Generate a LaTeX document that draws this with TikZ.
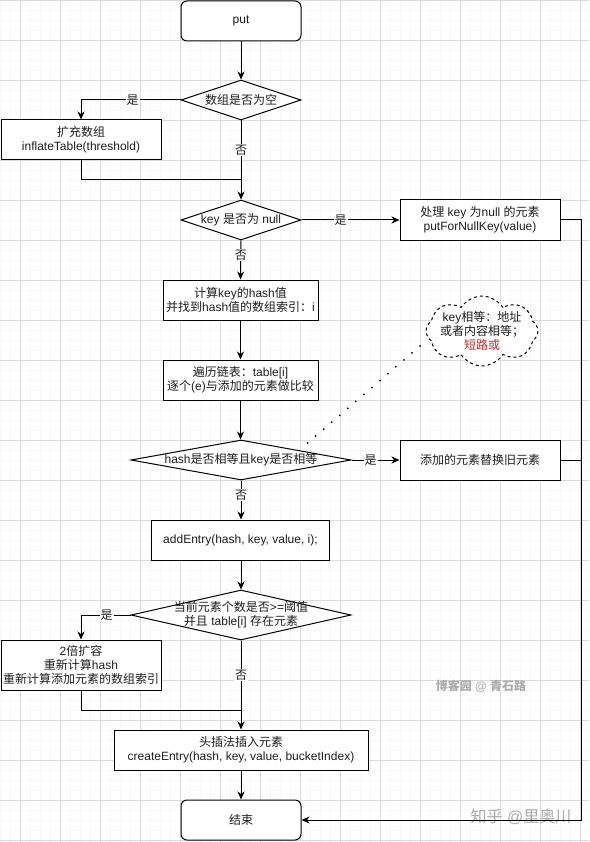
\documentclass[tikz,border=0pt]{standalone}
\usepackage{fontspec}
\setmainfont{Liberation Sans}
\newfontfamily\cjk{Noto Sans CJK SC}
\usetikzlibrary{arrows.meta,shapes.geometric,shapes.symbols,positioning}
\newcommand\zh[1]{{\cjk #1}}
\newcommand\fs{\fontsize{12}{14}\selectfont}
\definecolor{gridmaj}{RGB}{218,218,218}
\definecolor{gridmin}{RGB}{246,246,246}
\definecolor{txt}{RGB}{30,30,30}
\definecolor{shortred}{RGB}{200,40,40}
\definecolor{wm}{RGB}{170,170,170}
\tikzset{
  box/.style={draw, line width=1pt, fill=white, inner sep=0pt, align=center, font=\fs, text=txt},
  term/.style={box, rounded corners=6pt},
  dia/.style={draw, diamond, line width=1pt, fill=white, inner sep=0pt},
  diatext/.style={align=center, font=\fs, text=txt, inner sep=0pt},
  lbl/.style={fill=white, inner sep=1pt, font=\fs, text=txt},
  ln/.style={line width=1pt},
  arr/.style={line width=1pt, -{Stealth[length=8pt,width=7pt,inset=2.5pt]}},
  dots/.style={line width=2pt, line cap=round, dash pattern=on 0pt off 10.6pt}
}
\begin{document}
\begin{tikzpicture}[x=1pt,y=-1pt]
\useasboundingbox (0,0) rectangle (589,842);
% grid
\foreach \x in {0,10,...,580} \draw[gridmin, line width=0.6pt] (\x,0) -- (\x,842);
\foreach \y in {0,10,...,840} \draw[gridmin, line width=0.6pt] (0,\y) -- (589,\y);
\foreach \x in {20,60,...,580} \draw[gridmaj, line width=0.8pt] (\x,0) -- (\x,842);
\foreach \y in {0,40,...,840} \draw[gridmaj, line width=0.8pt] (0,\y) -- (589,\y);

% nodes
\node[term, minimum width=120pt, minimum height=40pt] (put) at (241,21) {put};
\node[dia, minimum width=120pt, minimum height=40pt] (d1) at (241,100) {};
\node[diatext] (d1t) at (d1) {\zh{数组是否为空}};
\node[box, minimum width=160pt, minimum height=40pt] (b1) at (81,140) {\zh{扩充数组}\\inflateTable(threshold)};
\node[dia, minimum width=120pt, minimum height=40pt] (d2) at (241,220) {};
\node[diatext] (d2t) at (d2) {key \zh{是否为} null};
\node[box, minimum width=160pt, minimum height=40pt] (bnull) at (480,220) {\zh{处理} key \zh{为}null \zh{的元素}\\putForNullKey(value)};
\node[box, minimum width=155pt, minimum height=40pt] (bhash) at (240.5,300) {\zh{计算}key\zh{的}hash\zh{值}\\\zh{并找到}hash\zh{值的数组索引：}i};
\node[box, minimum width=155pt, minimum height=40pt] (btrav) at (240.5,380) {\zh{遍历链表：}table[i]\\\zh{逐个}(e)\zh{与添加的元素做比较}};
\node[dia, minimum width=220pt, minimum height=40pt] (d3) at (241,460) {};
\node[diatext] (d3t) at (d3) {hash\zh{是否相等且}key\zh{是否相等}};
\node[box, minimum width=160pt, minimum height=40pt] (brep) at (480,460) {\zh{添加的元素替换旧元素}};
\node[box, minimum width=178pt, minimum height=40pt] (badd) at (240.5,540) {addEntry(hash, key, value, i);};
\node[dia, minimum width=220pt, minimum height=50pt] (d4) at (241,615) {};
\node[diatext] (d4t) at (d4) {\zh{当前元素个数是否}>=\zh{阈值}\\\zh{并且} table[i] \zh{存在元素}};
\node[box, minimum width=160pt, minimum height=50pt] (bexp) at (81,665) {2\zh{倍扩容}\\\zh{重新计算}hash\\\zh{重新计算添加元素的数组索引}};
\node[box, minimum width=254pt, minimum height=40pt] (bhead) at (241,750) {\zh{头插法插入元素}\\createEntry(hash, key, value, bucketIndex)};
\node[term, minimum width=120pt, minimum height=40pt] (end) at (241,820) {\zh{结束}};

\node[cloud, cloud puffs=8, cloud puff arc=115, aspect=1.6, draw, dashed, line width=1pt, fill=white,
      minimum width=112pt, minimum height=70pt, inner sep=0pt] (cl) at (482,331) {};
\node[diatext] (clt) at (482,331) {key\zh{相等：地址}\\\zh{或者内容相等；}\\\textcolor{shortred}{\zh{短路或}}};

% watermarks
\node[font=\fontsize{12}{14}\selectfont\bfseries, text=wm, inner sep=0pt] (wm1) at (481,686) {\zh{博客园} @ \zh{青石路}};
\node[font=\fontsize{16}{18}\selectfont, text=wm, inner sep=0pt] (wm2) at (521,817) {\zh{知乎} @\zh{里奥川}};

% helper coordinates
\coordinate (m1) at (241,180);
\coordinate (m2) at (241,710);
\coordinate (r1) at (581,220);
\coordinate (r2) at (581,820);
\coordinate (r3) at (581,460);
\coordinate (c1) at (420,346);
\coordinate (c2) at (303,447);

% connectors
\draw[arr] (put.south) -- (d1.north);
\draw[arr] (d1.west) -| node[lbl, pos=0.24] (l1) {\zh{是}} (b1.north);
\draw[arr] (d1.south) -- node[lbl, pos=0.375] (l2) {\zh{否}} (d2.north);
\draw[ln] (b1.south) |- (m1);
\draw[arr] (d2.east) -- node[lbl, pos=0.4] (l3) {\zh{是}} (bnull.west);
\draw[arr] (d2.south) -- node[lbl, pos=0.375] (l4) {\zh{否}} (bhash.north);
\draw[arr] (bhash.south) -- (btrav.north);
\draw[arr] (btrav.south) -- (btrav.south |- d3.north);
\draw[arr] (d3.east) -- node[lbl, pos=0.4] (l5) {\zh{是}} (brep.west);
\draw[arr] (d3.south) -- node[lbl, pos=0.375] (l6) {\zh{否}} (d3.south |- badd.north);
\draw[arr] (badd.south -| d4.north) -- (d4.north);
\draw[arr] (d4.west) -| node[lbl, pos=0.24] (l7) {\zh{是}} (bexp.north);
\draw[arr] (d4.south) -- node[lbl, pos=0.39] (l8) {\zh{否}} (bhead.north);
\draw[ln] (bexp.south) |- (m2);
\draw[arr] (bhead.south) -- (end.north);
\draw[arr] (bnull.east) -- (r1) -- (r2) -- (end.east);
\draw[ln] (brep.east) -- (r3);
\draw[dots] (c1) -- (c2);
\end{tikzpicture}
\end{document}
